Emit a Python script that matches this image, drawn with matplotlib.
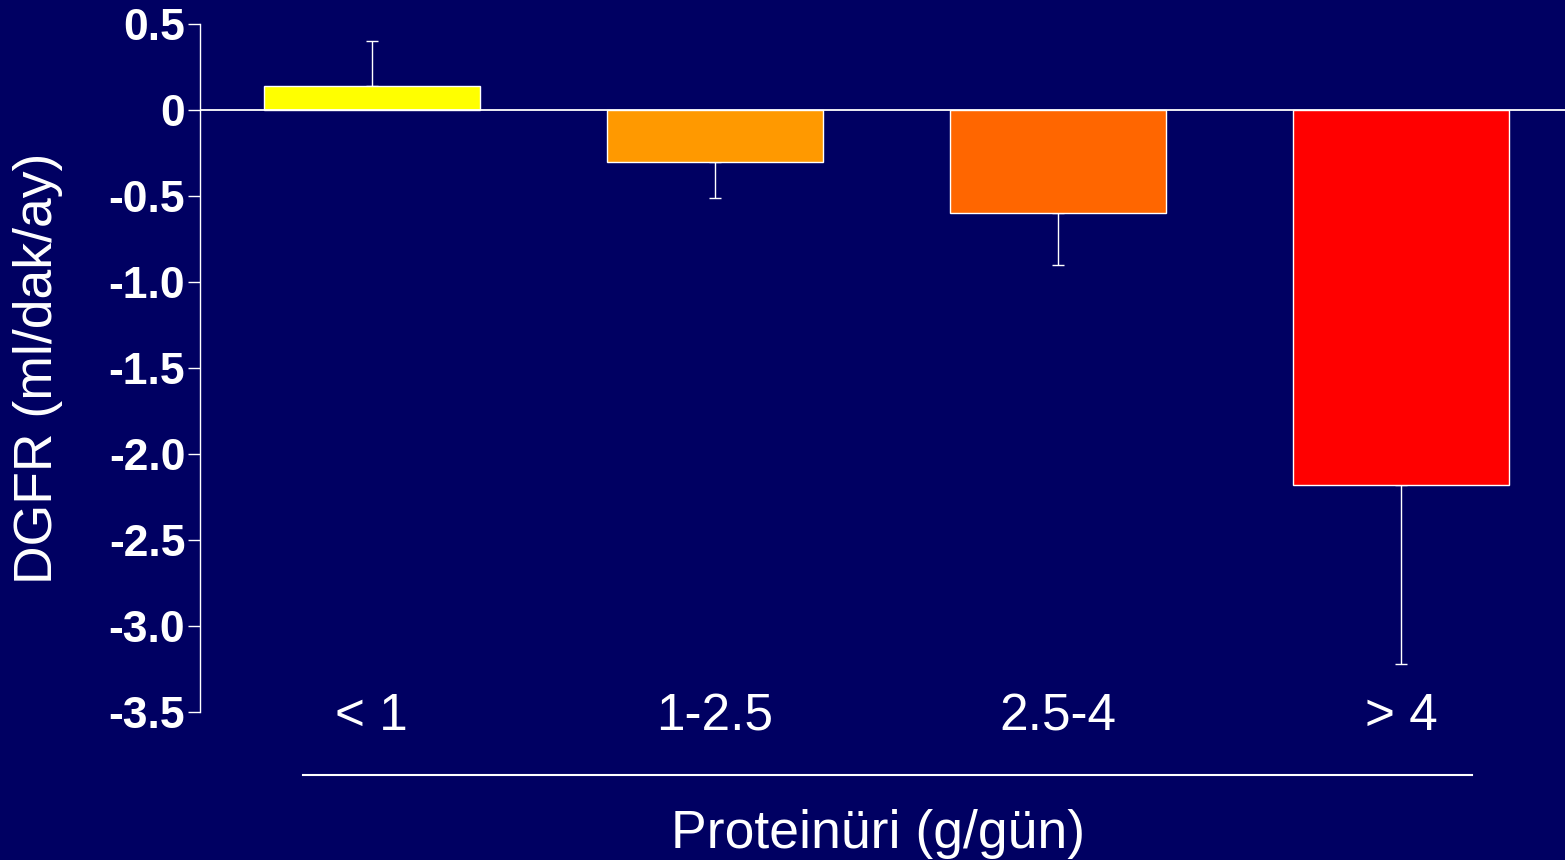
import matplotlib
matplotlib.use("Agg")
import matplotlib.pyplot as plt
from matplotlib.lines import Line2D
from matplotlib.transforms import offset_copy

# data
categories = ["< 1", "1-2.5", "2.5-4", "> 4"]
dgfr = [0.14, -0.30, -0.60, -2.18]
err = [0.26, 0.21, 0.30, 1.04]
colors = ["#FFFF00", "#FF9900", "#FF6600", "#FF0000"]
yticks = [0.5, 0, -0.5, -1.0, -1.5, -2.0, -2.5, -3.0, -3.5]
ytick_labels = ["0.5", "0", "-0.5", "-1.0", "-1.5", "-2.0", "-2.5", "-3.0", "-3.5"]

bg = "#000062"
plt.rcParams["font.family"] = ["Liberation Sans", "DejaVu Sans"]

fig = plt.figure(figsize=(15.65, 8.6), dpi=100, facecolor=bg)
ax = fig.add_axes([200 / 1565, 1 - 712 / 860, 1 - 200 / 1565, (712 - 24) / 860])
ax.set_facecolor(bg)

x = list(range(len(categories)))
ax.bar(x, dgfr, width=0.63, color=colors, edgecolor="white", linewidth=1, zorder=3)

# one-sided error bars, away from zero
lower = [e if v < 0 else 0 for v, e in zip(dgfr, err)]
upper = [e if v >= 0 else 0 for v, e in zip(dgfr, err)]
ax.errorbar(x, dgfr, yerr=[lower, upper], fmt="none", ecolor="white",
            elinewidth=1, capsize=4.5, capthick=1, zorder=2)

ax.axhline(0, color="white", linewidth=1.3, zorder=4)

ax.set_xlim(-0.501, 3.478)
ax.set_ylim(-3.5, 0.5)
ax.set_yticks(yticks)
ax.set_yticklabels(ytick_labels, fontsize=32, fontweight="bold", color="white")
ax.tick_params(axis="y", direction="out", length=8.6, width=1, color="white", pad=2)
ax.set_xticks([])

for s in ["top", "right", "bottom"]:
    ax.spines[s].set_visible(False)
ax.spines["left"].set_color("white")
ax.spines["left"].set_linewidth(1)

# category names sit on the -3.5 row, a touch low
lab_tr = offset_copy(ax.transData, fig=fig, x=0, y=-5, units="dots")
for xi, lab in zip(x, categories):
    ax.text(xi, -3.5, lab, ha="center", va="center", fontsize=37, color="white",
            transform=lab_tr)

ax.set_ylabel("DGFR (ml/dak/ay)", fontsize=38.5, color="white", labelpad=33)

# line above the x label
fig.add_artist(Line2D([303 / 1565, 1472 / 1565], [1 - 775 / 860, 1 - 775 / 860],
                      color="white", linewidth=1.5))
fig.text(878 / 1565, 1 - 834 / 860, "Proteinüri (g/gün)", ha="center", va="center",
         fontsize=38.5, color="white")

fig.savefig("out.png", dpi=100, facecolor=bg)
